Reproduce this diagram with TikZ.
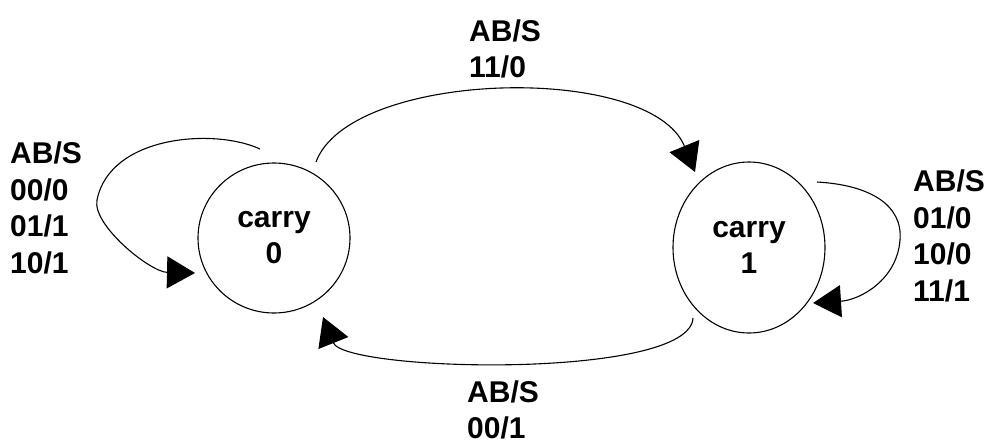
\documentclass[tikz,border=0pt]{standalone}
\usepackage{fontspec}
\setmainfont{Liberation Sans}
\usetikzlibrary{shapes.geometric,arrows.meta}
\begin{document}
\begin{tikzpicture}[x=1pt,y=-1pt,
  lbl/.style={font=\fontsize{30}{36.5}\selectfont\bfseries, align=left, inner sep=0pt, anchor=base west},
  state/.style={draw, line width=1.1pt, shape=ellipse, inner sep=0pt, align=center,
     font=\fontsize{30}{36}\selectfont\bfseries},
  conn/.style={line width=1.1pt, -{Triangle[length=28pt,width=32pt]}}]
\useasboundingbox (0,0) rectangle (989,445);
\fill[white] (0,0) rectangle (989,445);
% states
\node[state, minimum width=152pt, minimum height=150pt] (c0) at (274,238) {carry\\0};
\node[state, minimum width=152pt, minimum height=171pt] (c1) at (749,247.5) {carry\\1};
% connector ends
\coordinate (t0) at (316,162);
\coordinate (t1) at (695,172);
\coordinate (b1) at (693,318);
\coordinate (b0) at (323,317);
\coordinate (l0s) at (260,149);
\coordinate (l0m) at (97,200);
\coordinate (l0e) at (195,273);
\coordinate (r1s) at (817,182);
\coordinate (r1m) at (900,240);
\coordinate (r1e) at (813,303);
% connectors
\draw[conn] (t0) .. controls (350,70) and (650,62) .. (t1);
\draw[conn] (b1) .. controls (690,380) and (345,372) .. (b0);
\draw[conn] (l0s) .. controls (215,128) and (110,135) .. (l0m)
                  .. controls (92,225) and (150,272) .. (l0e);
\draw[conn] (r1s) .. controls (870,185) and (903,205) .. (r1m)
                  .. controls (897,280) and (860,300) .. (r1e);
% labels (anchor = baseline of the last line)
\node[lbl] (ltop) at (469,77.5) {AB/S\\11/0};
\node[lbl] (lbot) at (467,438.5) {AB/S\\00/1};
\node[lbl] (lleft) at (10,273) {AB/S\\00/0\\01/1\\10/1};
\node[lbl] (lright) at (913,301) {AB/S\\01/0\\10/0\\11/1};
\end{tikzpicture}
\end{document}
